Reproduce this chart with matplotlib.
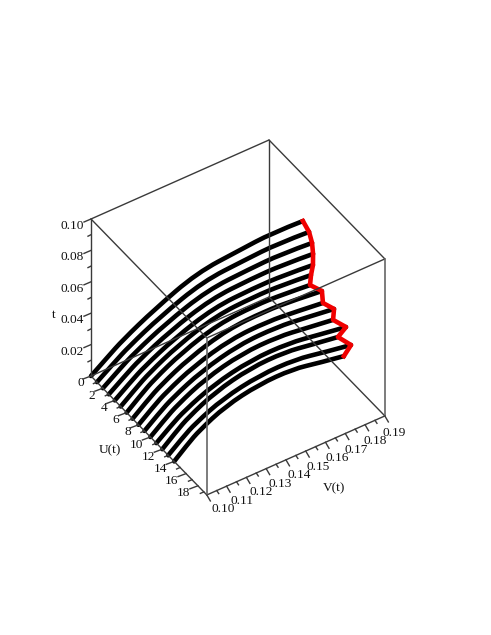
import numpy as np
import matplotlib
matplotlib.use('Agg')
import matplotlib.pyplot as plt
from matplotlib.path import Path
from matplotlib.patches import PathPatch

# values along each curve, one row per curve
U = [[0, .88, 1.65, 3.3, 5.5, 7.7, 9.35, 11],
     [1, 1.85, 2.59, 4.17, 6.29, 8.40, 9.99, 11.57],
     [2, 2.81, 3.52, 5.04, 7.07, 9.10, 10.62, 12.14],
     [3, 3.78, 4.46, 5.91, 7.86, 9.80, 11.26, 12.71],
     [4, 4.74, 5.39, 6.79, 8.64, 10.50, 11.89, 13.29],
     [5, 5.71, 6.33, 7.66, 9.43, 11.20, 12.53, 13.86],
     [6, 6.67, 7.26, 8.53, 10.21, 11.90, 13.16, 14.43],
     [7, 7.64, 8.2, 9.4, 11, 12.6, 13.8, 15],
     [8, 8.61, 9.14, 10.27, 11.79, 13.30, 14.44, 15.57],
     [9, 9.57, 10.07, 11.14, 12.57, 14.00, 15.07, 16.14],
     [10, 10.54, 11.01, 12.01, 13.36, 14.70, 15.71, 16.71],
     [11, 11.50, 11.94, 12.89, 14.14, 15.40, 16.34, 17.29],
     [12, 12.47, 12.88, 13.76, 14.93, 16.10, 16.98, 17.86],
     [13, 13.43, 13.81, 14.63, 15.71, 16.80, 17.61, 18.43],
     [14, 14.4, 14.75, 15.5, 16.5, 17.5, 18.25, 19]]
V = [[.1, .1059, .1111, .1222, .1371, .1519, .1630, .1741],
     [.1, .1060, .1113, .1226, .1377, .1528, .1641, .1755],
     [.1, .1060, .1113, .1226, .1376, .1527, .1640, .1753],
     [.1, .1059, .1111, .1222, .1370, .1518, .1629, .1741],
     [.1, .1058, .1109, .1217, .1362, .1506, .1615, .1723],
     [.1, .1056, .1104, .1209, .1348, .1487, .1592, .1696],
     [.1, .1054, .1101, .1202, .1337, .1472, .1573, .1674],
     [.1, .1057, .1108, .1215, .1359, .1502, .1610, .1717],
     [.1, .1056, .1106, .1212, .1353, .1494, .1599, .1705],
     [.1, .1059, .1112, .1223, .1372, .1521, .1632, .1744],
     [.1, .1058, .1108, .1216, .1361, .1505, .1613, .1722],
     [.1, .1062, .1116, .1231, .1385, .1539, .1655, .1770],
     [.1, .1057, .1107, .1214, .1356, .1499, .1606, .1712],
     [.1, .1061, .1114, .1228, .1381, .1533, .1647, .1761],
     [.1, .1057, .1106, .1213, .1354, .1496, .1602, .1708]]
t = [[0, .0124, .0231, .0428, .0663, .0809, .0919, .1000],
     [0, .0121, .0224, .0414, .0635, .0771, .0871, .0945],
     [0, .0119, .0219, .0402, .0610, .0739, .0830, .0898],
     [0, .0116, .0214, .0390, .0588, .0711, .0793, .0857],
     [0, .0114, .0209, .0380, .0568, .0684, .0759, .0819],
     [0, .0113, .0206, .0374, .0554, .0667, .0736, .0792],
     [0, .0112, .0203, .0366, .0538, .0647, .0710, .0763],
     [0, .0111, .0201, .0359, .0522, .0622, .0677, .0723],
     [0, .0107, .0193, .0343, .0495, .0587, .0634, .0676],
     [0, .0106, .0191, .0337, .0480, .0565, .0603, .0638],
     [0, .0103, .0185, .0326, .0459, .0539, .0571, .0603],
     [0, .0101, .0180, .0314, .0436, .0507, .0529, .0553],
     [0, .0100, .0179, .0311, .0430, .0500, .0520, .0544],
     [0, .0097, .0172, .0296, .0402, .0462, .0472, .0488],
     [0, .0095, .0168, .0289, .0389, .0447, .0455, .0469]]

U_ticks = [0, 2, 4, 6, 8, 10, 12, 14, 16, 18]
V_ticks = [.10, .11, .12, .13, .14, .15, .16, .17, .18, .19]
t_ticks = [.02, .04, .06, .08, .10]
U_max = 19.5

def proj(u, v, z):
    # Maple box is orthographic, so the view is a plain affine map to pixels
    u, v, z = np.asarray(u), np.asarray(v), np.asarray(z)
    return 91 + 5.94*u + 1978*(v - .10), 376 + 6.1*u - 878*(v - .10) - 1570*z

def smooth(ax, x, y, **kw):
    # quadratic pieces through the midpoints, the samples act as control points
    pts = [(x[0], y[0])]
    codes = [Path.MOVETO]
    for i in range(1, len(x) - 1):
        if i < len(x) - 2:
            end = ((x[i] + x[i+1])/2, (y[i] + y[i+1])/2)
        else:
            end = (x[i+1], y[i+1])
        pts += [(x[i], y[i]), end]
        codes += [Path.CURVE3, Path.CURVE3]
    ax.add_patch(PathPatch(Path(pts, codes), fill=False, **kw))

def edge(ax, a, b, color='#3a3a3a', lw=1.0, zorder=4):
    x, y = proj(*zip(a, b))
    ax.plot(x, y, color=color, lw=lw, zorder=zorder, solid_capstyle='round')

def tick(ax, p, dx, dy):
    x, y = proj(*p)
    ax.plot([x, x + dx], [y, y + dy], color='#3a3a3a', lw=1.0, zorder=4)

fig = plt.figure(figsize=(4.91, 6.35), dpi=100)
ax = fig.add_axes([0, 0, 1, 1])
ax.set_xlim(0, 491)
ax.set_ylim(635, 0)
ax.axis('off')

for ur, vr, zr in zip(U, V, t):
    x, y = proj(ur, vr, zr)
    smooth(ax, x, y, edgecolor='k', lw=3.3, zorder=2, capstyle='round')

x, y = proj([r[-1] for r in U], [r[-1] for r in V], [r[-1] for r in t])
ax.plot(x, y, color='#f00000', lw=3.3, zorder=3, solid_joinstyle='round')

v0, v1, z1 = V_ticks[0], V_ticks[-1], t_ticks[-1]
for z in (0, z1):
    edge(ax, (0, v0, z), (U_max, v0, z))
    edge(ax, (U_max, v0, z), (U_max, v1, z))
    edge(ax, (U_max, v1, z), (0, v1, z))
    edge(ax, (0, v1, z), (0, v0, z))
for u, v in [(0, v0), (U_max, v0), (U_max, v1), (0, v1)]:
    edge(ax, (u, v, 0), (u, v, z1), color='#666666' if u else '#3a3a3a', lw=1.2 if u else 1.0)

font = dict(family='Liberation Serif', fontsize=9.6, ha='center', va='center', color='#111111')

for i in range(20):
    major = i % 2 == 0
    tick(ax, (i, v0, 0), -8 if major else -3.5, 3 if major else 1.5)
for val in U_ticks:
    x, y = proj(val, v0, 0)
    ax.text(x - (10 if val == 0 else 11 if val < 10 else 14), y + 7.5, str(val), **font)

for i in range(19):
    major = i % 2 == 0
    tick(ax, (U_max, v0 + i*.005, 0), 3.5 if major else 2, 6 if major else 3)
for i, val in enumerate(V_ticks):
    x, y = proj(U_max, val, 0)
    ax.text(x + 16 - .78*i, y + 14 + .33*i, f'{val:.2f}', **font)

for i in range(1, 11):
    major = i % 2 == 0
    tick(ax, (0, v0, i*.01), -7 if major else -3, 3 if major else 1.5)
for val in t_ticks:
    x, y = proj(0, v0, val)
    ax.text(x - 19, y + 7, f'{val:.2f}', **font)

ax.text(54, 315, 't', **font)
ax.text(110, 450, 'U(t)', **font)
ax.text(334, 488, 'V(t)', **font)

fig.savefig('out.png', dpi=100)
